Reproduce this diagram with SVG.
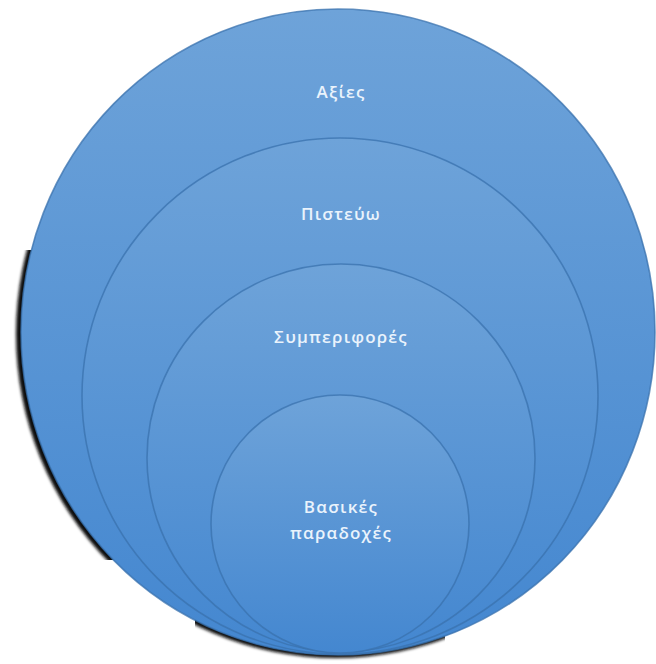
<svg xmlns="http://www.w3.org/2000/svg" width="656" height="664" viewBox="0 0 656 664">
<defs>
<linearGradient id="g" x1="0" y1="0" x2="0" y2="1">
<stop offset="0" stop-color="#6ea3d9"/>
<stop offset="1" stop-color="#4487d0"/>
</linearGradient>
<filter id="blur" x="-10%" y="-10%" width="120%" height="120%"><feGaussianBlur stdDeviation="1.5"/></filter>
<clipPath id="sc"><rect x="0" y="250" width="120" height="310"/><rect x="195" y="600" width="250" height="64"/></clipPath>
</defs>
<style>
.c{fill:url(#g);stroke:#3a72ad;stroke-width:1.6;stroke-opacity:0.75}
.t{font-family:"Open Sans","DejaVu Sans",sans-serif;font-size:17px;font-weight:600;fill:#eaf3fc;text-anchor:middle;letter-spacing:1.2px}
</style>
<g id="shadow" clip-path="url(#sc)">
<ellipse cx="336" cy="334" rx="320" ry="324" fill="#111" filter="url(#blur)"/>
</g>
<g id="node-axies">
<ellipse class="c" cx="338" cy="332" rx="317" ry="323"/>
<text class="t" x="341" y="98">Αξίες</text>
</g>
<g id="node-pisteuo">
<circle class="c" cx="340" cy="396" r="258"/>
<text class="t" x="341" y="220">Πιστεύω</text>
</g>
<g id="node-symperifores">
<circle class="c" cx="341" cy="458" r="194"/>
<text class="t" x="341" y="343">Συμπεριφορές</text>
</g>
<g id="node-vasikes">
<circle class="c" cx="340" cy="524" r="129"/>
<text class="t" x="341" y="513">Βασικές</text>
<text class="t" x="341" y="539">παραδοχές</text>
</g>
<g id="connectors"/>
</svg>
